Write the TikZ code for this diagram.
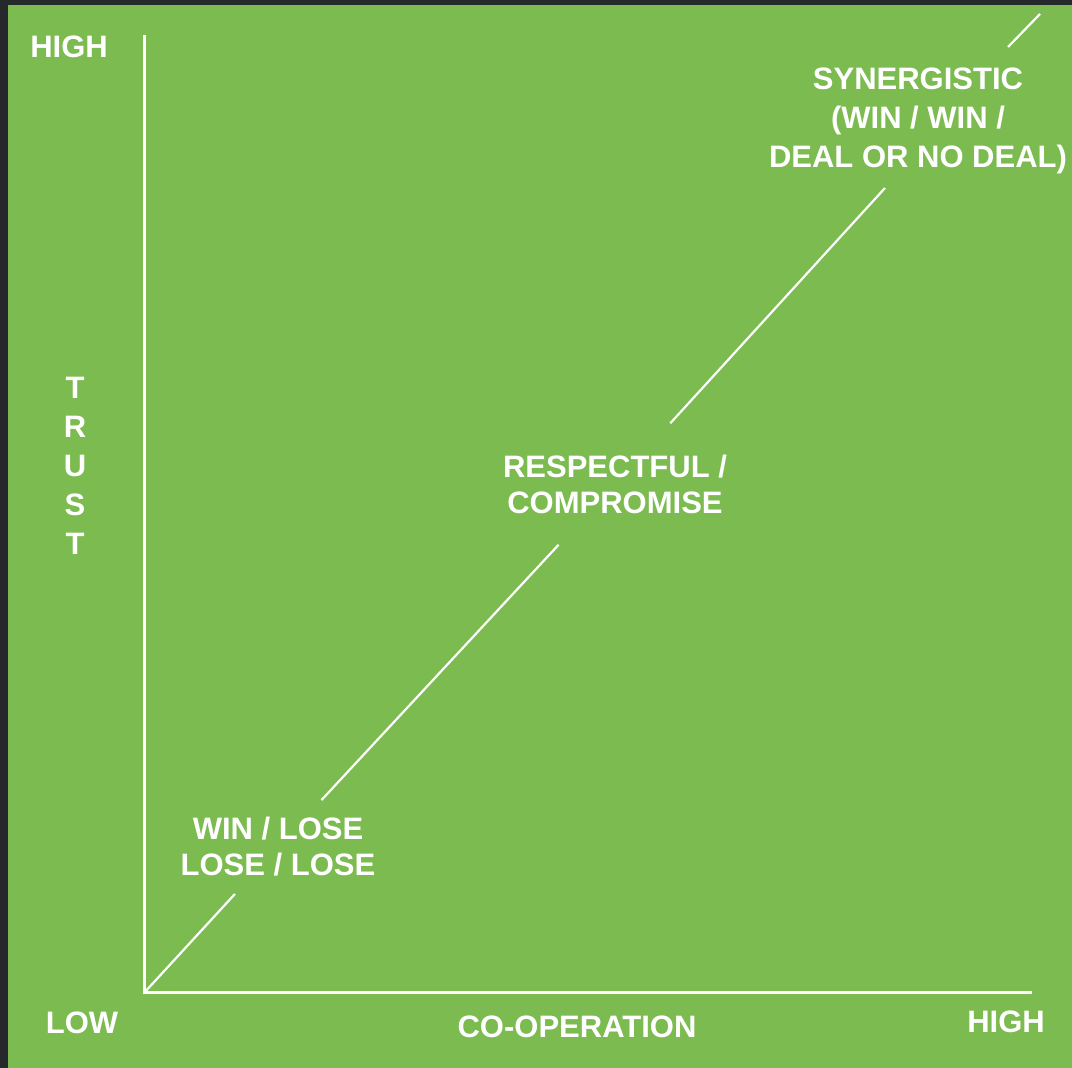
\documentclass[tikz,border=0pt]{standalone}
\usepackage{fontspec}
\setmainfont{Liberation Sans}
\definecolor{chartgreen}{HTML}{7BBB4F}
\definecolor{darkframe}{HTML}{26292C}

\begin{document}
\begin{tikzpicture}[
            x = 0.5pt, y = -0.5pt,
            every node/.style = {text = white, align = center, inner sep = 0pt,
                                 font = \bfseries\fontsize{15.5}{18}\selectfont},
            axis/.style = {draw = white, line width = 1.5pt},
            trend/.style = {draw = white, line width = 1.1pt},
            zone/.style = {inner ysep = 8.5pt}
            ]
            \fill[darkframe] (0,0) rectangle (1072,1068);
            \fill[chartgreen] (8,5) rectangle (1072,1068);
            % axes
            \coordinate (origin) at (144,993);
            \coordinate (ytop) at (144,35);
            \coordinate (xend) at (1032,993);
            \draw[axis] (ytop) -- (origin) -- (xend);
            \node (yhigh) at (69,47) {HIGH};
            \node (low) at (82,1023) {LOW};
            \node (xhigh) at (1006,1022) {HIGH};
            \node (coop) at (577,1027) {CO-OPERATION};
            \node[font = \bfseries\fontsize{15.5}{19.5}\selectfont] (trust) at (75,466) {T\\R\\U\\S\\T};
            % zones along the diagonal
            \node[zone] (winlose) at (278,847) {WIN / LOSE\\LOSE / LOSE};
            \node[zone, inner ysep = 15.5pt] (respect) at (615,484) {RESPECTFUL /\\COMPROMISE};
            \node[font = \bfseries\fontsize{15.5}{19.5}\selectfont] (synergy) at (918,121)
                 {SYNERGISTIC\\(WIN / WIN /\\DEAL OR NO DEAL)};
            \coordinate (synergyin) at (885,188);
            \coordinate (synergyout) at (1008,47);
            \coordinate (corner) at (1040,14);
            \draw[trend] (origin) -- (winlose);
            \draw[trend] (winlose) -- (respect);
            \draw[trend] (respect) -- (synergyin);
            \draw[trend] (synergyout) -- (corner);
\end{tikzpicture}
\end{document}
